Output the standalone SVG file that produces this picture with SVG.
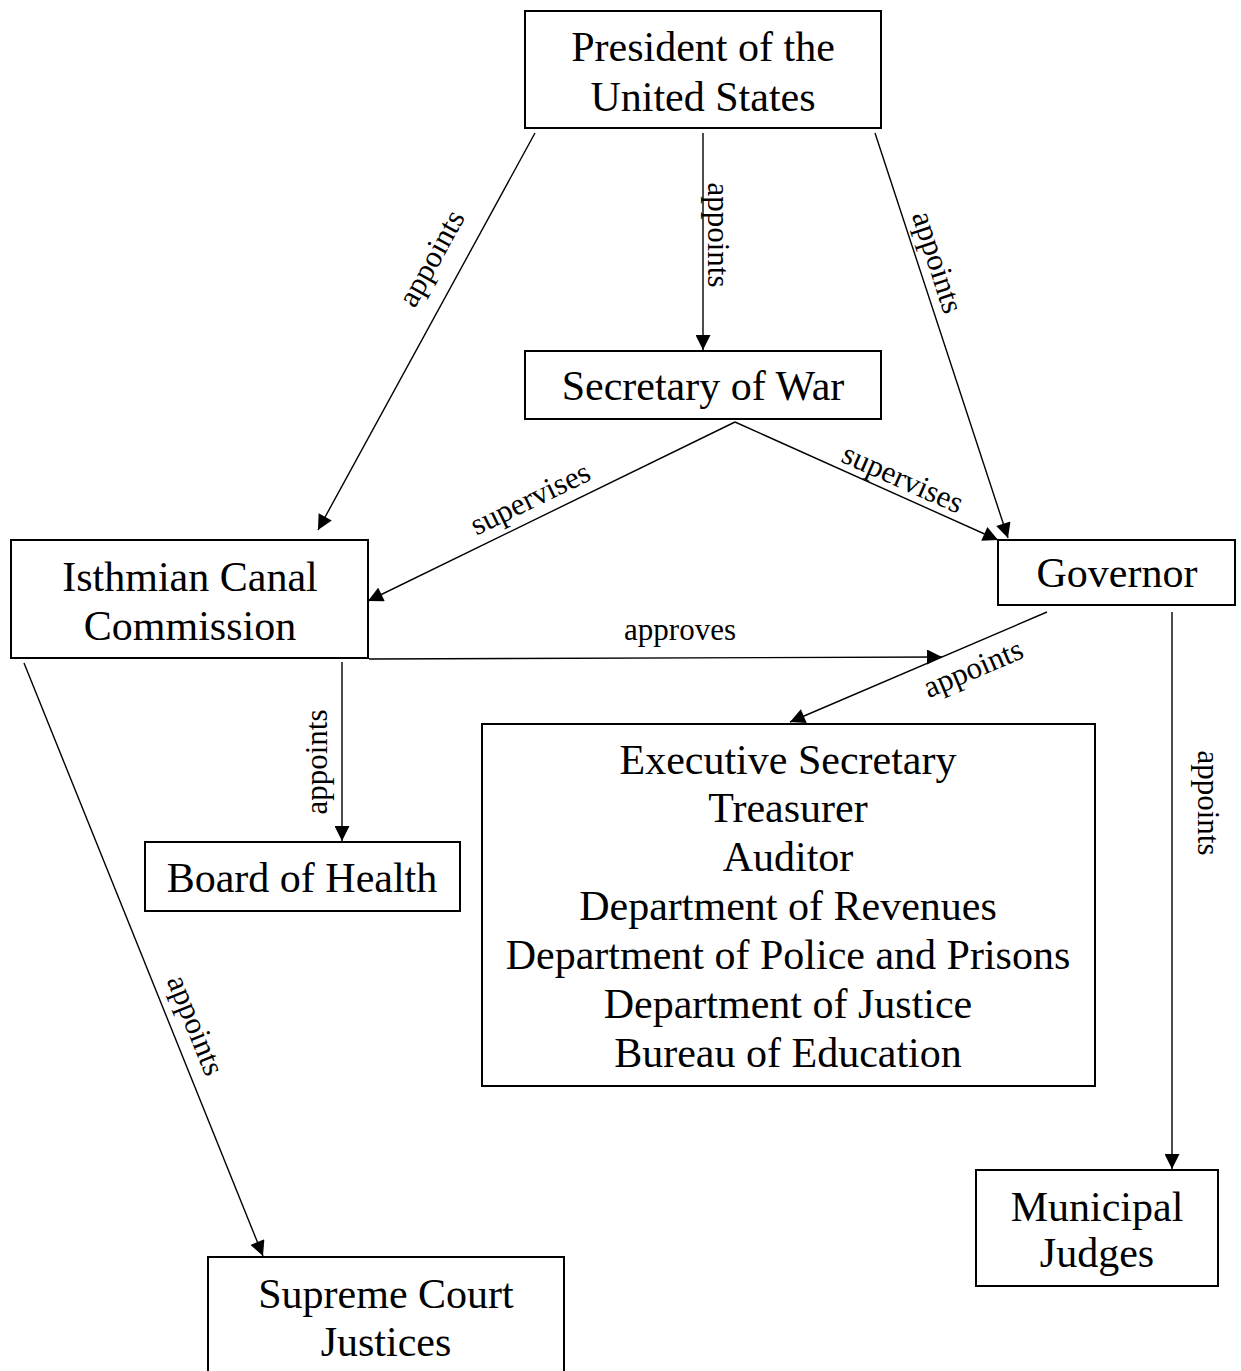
<svg xmlns="http://www.w3.org/2000/svg" width="1241" height="1371" viewBox="0 0 1241 1371">
<style>
.box{fill:#fff;stroke:#000;stroke-width:2}
.nt{font-family:"Liberation Serif","Times New Roman",serif;font-size:42px;text-anchor:middle;fill:#000}
.lt{font-family:"Liberation Serif","Times New Roman",serif;font-size:31px;text-anchor:middle;fill:#000}
.ln{stroke:#000;stroke-width:1.4;fill:none;marker-end:url(#ah)}
</style>
<defs>
<marker id="ah" viewBox="0 0 10 10" refX="10" refY="5" markerWidth="16" markerHeight="15" markerUnits="userSpaceOnUse" orient="auto">
<path d="M0,0 L10,5 L0,10 Z" fill="#000"/>
</marker>
</defs>
<rect width="1241" height="1371" fill="#fff"/>
<g id="connectors">
<line class="ln" x1="535" y1="133" x2="318" y2="530"/>
<line class="ln" x1="703" y1="133" x2="703" y2="350"/>
<line class="ln" x1="875" y1="133" x2="1008" y2="538"/>
<line class="ln" x1="735" y1="422" x2="368" y2="601"/>
<line class="ln" x1="735" y1="422" x2="998" y2="540"/>
<line class="ln" x1="369" y1="659" x2="942" y2="657"/>
<line class="ln" x1="1047" y1="612" x2="790" y2="722"/>
<line class="ln" x1="342" y1="662" x2="342" y2="841"/>
<line class="ln" x1="1172" y1="612" x2="1172" y2="1169"/>
<line class="ln" x1="24" y1="663" x2="263" y2="1256"/>
<text class="lt" transform="translate(431,258) rotate(-61)" dominant-baseline="central">appoints</text>
<text class="lt" transform="translate(718,235) rotate(90)" dominant-baseline="central">appoints</text>
<text class="lt" transform="translate(938,262) rotate(72)" dominant-baseline="central">appoints</text>
<text class="lt" transform="translate(530,498) rotate(-26)" dominant-baseline="central">supervises</text>
<text class="lt" transform="translate(903,478) rotate(24)" dominant-baseline="central">supervises</text>
<text class="lt" x="680" y="640">approves</text>
<text class="lt" transform="translate(973,668) rotate(-23)" dominant-baseline="central">appoints</text>
<text class="lt" transform="translate(316,762) rotate(-90)" dominant-baseline="central">appoints</text>
<text class="lt" transform="translate(1208,803) rotate(90)" dominant-baseline="central">appoints</text>
<text class="lt" transform="translate(196,1025) rotate(68)" dominant-baseline="central">appoints</text>
</g>
<g id="president">
<rect class="box" x="525" y="11" width="356" height="117"/>
<text class="nt" x="703" y="61">President of the</text>
<text class="nt" x="703" y="111">United States</text>
</g>
<g id="secretary-of-war">
<rect class="box" x="525" y="351" width="356" height="68"/>
<text class="nt" x="703" y="400">Secretary of War</text>
</g>
<g id="isthmian-canal-commission">
<rect class="box" x="11" y="540" width="357" height="118"/>
<text class="nt" x="190" y="591">Isthmian Canal</text>
<text class="nt" x="190" y="640">Commission</text>
</g>
<g id="governor">
<rect class="box" x="998" y="540" width="237" height="65"/>
<text class="nt" x="1117" y="587">Governor</text>
</g>
<g id="board-of-health">
<rect class="box" x="145" y="842" width="315" height="69"/>
<text class="nt" x="302" y="892">Board of Health</text>
</g>
<g id="executive-offices">
<rect class="box" x="482" y="724" width="613" height="362"/>
<text class="nt" x="788" y="774">Executive Secretary</text>
<text class="nt" x="788" y="822">Treasurer</text>
<text class="nt" x="788" y="871">Auditor</text>
<text class="nt" x="788" y="920">Department of Revenues</text>
<text class="nt" x="788" y="969">Department of Police and Prisons</text>
<text class="nt" x="788" y="1018">Department of Justice</text>
<text class="nt" x="788" y="1067">Bureau of Education</text>
</g>
<g id="municipal-judges">
<rect class="box" x="976" y="1170" width="242" height="116"/>
<text class="nt" x="1097" y="1221">Municipal</text>
<text class="nt" x="1097" y="1267">Judges</text>
</g>
<g id="supreme-court-justices">
<rect class="box" x="208" y="1257" width="356" height="130"/>
<text class="nt" x="386" y="1308">Supreme Court</text>
<text class="nt" x="386" y="1356">Justices</text>
</g>
</svg>
